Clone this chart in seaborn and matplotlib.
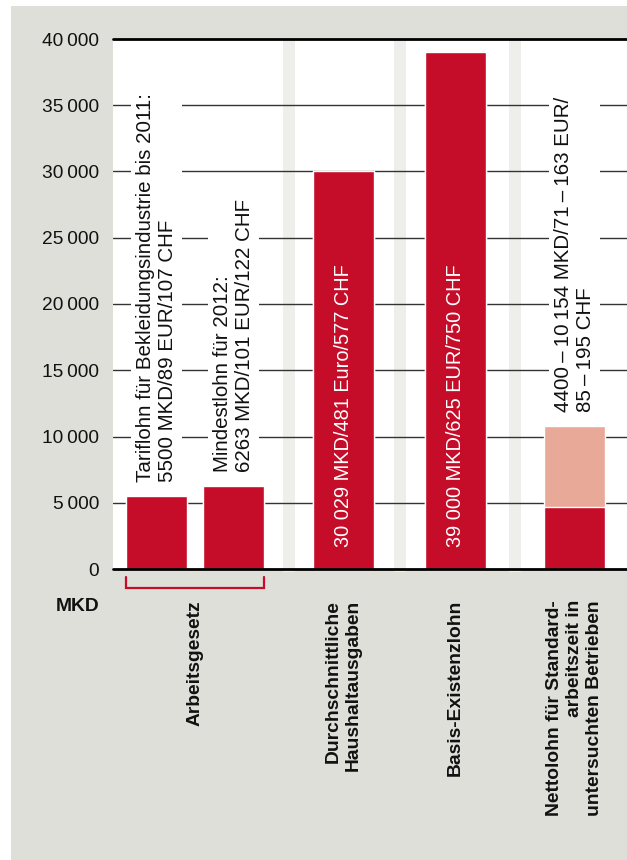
import pandas as pd
import numpy as np
import matplotlib.pyplot as plt
import seaborn as sns
from matplotlib.patches import Rectangle

# region << Data >>
bar_keys = ['tarif', 'mindest', 'haushalt', 'existenz', 'netto']
base_values = [5500, 6263, 30029, 39000, 4700]      # dark red part
top_values = [5500, 6263, 30029, 39000, 10830]      # light part (range for last bar)

above_labels = ['Tariflohn für Bekleidungsindustrie bis 2011:\n5500 MKD/89 EUR/107 CHF',
                'Mindestlohn für 2012:\n6263 MKD/101 EUR/122 CHF',
                None,
                None,
                '4400\u2009–\u200910\u2009154 MKD/71\u2009–\u2009163 EUR/\n85\u2009–\u2009195 CHF']
inside_labels = [None, None, '30 029 MKD/481 Euro/577 CHF', '39 000 MKD/625 EUR/750 CHF', None]

group_labels = ['Arbeitsgesetz',
                'Durchschnittliche\nHaushaltausgaben',
                'Basis-Existenzlohn',
                'Nettolohn für Standard-\narbeitszeit in\nuntersuchten Betrieben']
y_ticks = list(range(0, 40001, 5000))
# endregion

# layout (pixel-like units along the x axis)
bar_pos = [43.5, 120.5, 230.5, 342.5, 461.5]
bar_width = 61
group_x = [(bar_pos[0] + bar_pos[1]) / 2, bar_pos[2], bar_pos[3], bar_pos[4]]

RED = '#c50c29'
LIGHT = '#e8a998'
PANEL = '#dfdfda'
BAND = '#eeeeea'

sns.set_style('white')
plt.rcParams['font.family'] = ['Liberation Sans', 'DejaVu Sans']

fig = plt.figure(figsize=(6.27, 8.6), dpi=100)
fig.patch.set_facecolor('white')
fig.patches.append(Rectangle((11 / 627, 0), 1, 854 / 860, transform=fig.transFigure,
                             facecolor=PANEL, edgecolor='none', zorder=-5))
ax = fig.add_axes([113 / 627, 291 / 860, 514 / 627, 530 / 860])
ax.set_facecolor('white')

df = pd.DataFrame({'key': bar_keys, 'pos': bar_pos, 'base': base_values, 'top': top_values})
rel_width = bar_width / np.min(np.diff(bar_pos))

# bars: light (top) first, red base over it
sns.barplot(data=df, x='pos', y='top', native_scale=True, orient='x', width=rel_width,
            color=LIGHT, saturation=1, errorbar=None, ax=ax, zorder=3)
sns.barplot(data=df, x='pos', y='base', native_scale=True, orient='x', width=rel_width,
            color=RED, saturation=1, errorbar=None, ax=ax, zorder=3)

# light separator bands between groups
for a, b in zip(bar_pos[1:-1], bar_pos[2:]):
    mid = (a + b) / 2
    ax.axvspan(mid - 6, mid + 6, ymin=-0.006, color=BAND, zorder=0.5, lw=0, clip_on=False)

# Create the grid
for t in y_ticks[1:-1]:
    ax.axhline(t, color='#333333', lw=1, zorder=1)
ax.axhline(40000, color='black', lw=2, zorder=2, clip_on=False)
ax.axhline(0, color='black', lw=2, zorder=4, clip_on=False)

ax.set_xlim(0, 514)
ax.set_ylim(0, 40000)
ax.set_xticks([])
ax.set_xlabel('')
ax.set_ylabel('')
ax.set_yticks(y_ticks)
ax.yaxis.set_major_formatter(lambda s, i: f'{s:,.0f}'.replace(',', '\u2009'))
ax.yaxis.set_tick_params(length=0, pad=10, labelsize=13.8, labelcolor='#111111')
ax.spines[['top', 'left', 'bottom', 'right']].set_visible(False)

# labels above / inside bars
for x, v, lab in zip(bar_pos, top_values, above_labels):
    if lab:
        ax.annotate(lab, xy=(x, v), xytext=(0, 10), textcoords='offset points',
                    rotation=90, ha='center', va='bottom', multialignment='left',
                    fontsize=14.8, color='#111111', linespacing=1.15, zorder=5,
                    bbox=dict(facecolor='white', edgecolor='none', pad=4))
for x, lab in zip(bar_pos, inside_labels):
    if lab:
        ax.annotate(lab, xy=(x, 0), xytext=(0, 16), textcoords='offset points',
                    rotation=90, ha='center', va='bottom', fontsize=14.4, color='white', zorder=5)

# bracket under the Arbeitsgesetz pair
trans = ax.get_xaxis_transform()
bx0 = bar_pos[0] - bar_width / 2
bx1 = bar_pos[1] + bar_width / 2
ax.plot([bx0, bx0, bx1, bx1], [-0.0142, -0.0358, -0.0358, -0.0142], color=RED, lw=1.6,
        transform=trans, clip_on=False, solid_joinstyle='miter')

# group labels
for x, lab in zip(group_x, group_labels):
    ax.text(x, -0.0585, lab, transform=trans, rotation=90, ha='center', va='top',
            multialignment='right', fontsize=13.9, fontweight='bold', linespacing=1.25,
            color='#111111')

ax.text(-0.0272, -0.0708, 'MKD', transform=ax.transAxes, ha='right', va='center',
        fontsize=13.9, fontweight='bold', color='#111111')

fig.savefig('out.png', dpi=100)
